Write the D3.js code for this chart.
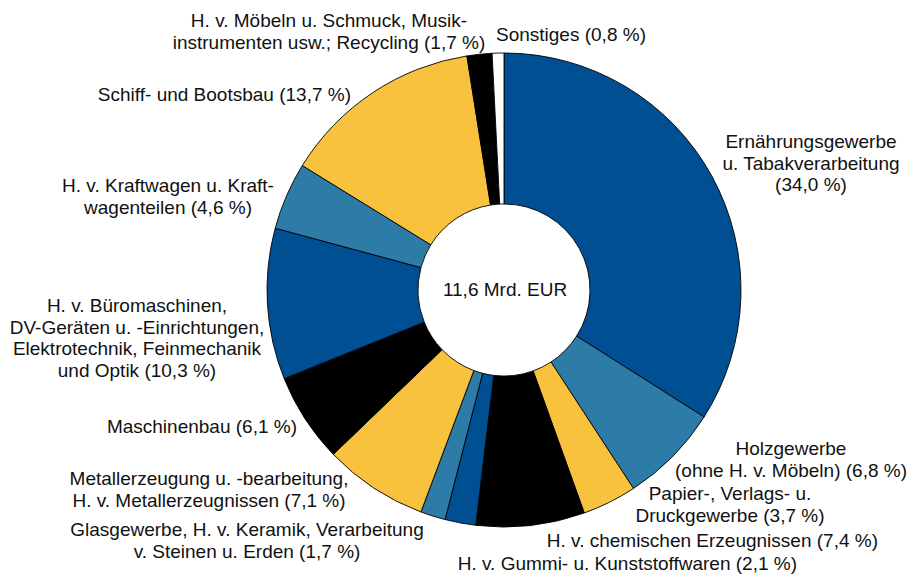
<!DOCTYPE html>
<html>
<head>
<meta charset="utf-8">
<script src="https://cdn.jsdelivr.net/npm/d3@7"></script>
<style>
  body { margin: 0; background: #fff; }
  text { font-family: "Liberation Sans", Arial, sans-serif; fill: #111; }
</style>
</head>
<body>
<svg id="chart" width="909" height="575"></svg>
<script>
// shares in %, clockwise from 12 o'clock
let sectors = ['Ernährungsgewerbe u. Tabakverarbeitung', 'Holzgewerbe', 'Papier-, Verlags- u. Druckgewerbe',
	'H. v. chemischen Erzeugnissen', 'H. v. Gummi- u. Kunststoffwaren', 'Glasgewerbe, Keramik, Steine u. Erden',
	'Metallerzeugung u. -bearbeitung', 'Maschinenbau', 'Büromaschinen, Elektrotechnik, Optik',
	'Kraftwagen', 'Schiff- und Bootsbau', 'Möbel, Schmuck, Recycling', 'Sonstiges'];
let shares = [34.0, 6.8, 3.7, 7.4, 2.1, 1.7, 7.1, 6.1, 10.3, 4.6, 13.7, 1.7, 0.8];
let label_lines = [
	['Ernährungsgewerbe', 'u. Tabakverarbeitung', '(34,0 %)'],
	['Holzgewerbe', '(ohne H. v. Möbeln) (6,8 %)'],
	['Papier-, Verlags- u.', 'Druckgewerbe (3,7 %)'],
	['H. v. chemischen Erzeugnissen (7,4 %)'],
	['H. v. Gummi- u. Kunststoffwaren (2,1 %)'],
	['Glasgewerbe, H. v. Keramik, Verarbeitung', 'v. Steinen u. Erden (1,7 %)'],
	['Metallerzeugung u. -bearbeitung,', 'H. v. Metallerzeugnissen (7,1 %)'],
	['Maschinenbau (6,1 %)'],
	['H. v. Büromaschinen,', 'DV-Geräten u. -Einrichtungen,', 'Elektrotechnik, Feinmechanik', 'und Optik (10,3 %)'],
	['H. v. Kraftwagen u. Kraft-', 'wagenteilen (4,6 %)'],
	['Schiff- und Bootsbau (13,7 %)'],
	['H. v. Möbeln u. Schmuck, Musik-', 'instrumenten usw.; Recycling (1,7 %)'],
	['Sonstiges (0,8 %)']
];
let total_label = '11,6 Mrd. EUR';

let colors = ['#004f92', '#2d7ca8', '#f9c23e', '#000000', '#004f92', '#2d7ca8', '#f9c23e',
	'#000000', '#004f92', '#2d7ca8', '#f9c23e', '#000000', '#ffffff'];

// hand placed label anchors (x, first baseline, anchor)
let label_pos = [
	[811, 148, 'middle'], [791, 455, 'middle'], [730, 500, 'middle'], [878, 547, 'end'],
	[797, 570, 'end'], [247, 536, 'middle'], [209, 485, 'middle'], [297, 433, 'end'],
	[137, 312, 'middle'], [168, 192, 'middle'], [351, 101, 'end'], [329, 27, 'middle'],
	[496, 41, 'start']
];

let cx = 504, cy = 290, outer_r = 237, inner_r = 86,
	font_size = 19, line_h = 21.5;

let svg = d3.select('#chart');
let g = svg.append('g').attr('transform', `translate(${cx}, ${cy})`);

let pie = d3.pie().sort(null).value(d => d);
let arc = d3.arc().innerRadius(inner_r).outerRadius(outer_r);

g.selectAll('.slice')
	.data(pie(shares))
	.enter()
	.append('path')
	.attr('class', 'slice')
	.attr('d', arc)
	.attr('fill', (d, i) => colors[i])
	.attr('stroke', '#000')
	.attr('stroke-width', 0.9)
	.attr('stroke-linejoin', 'round');

g.append('text')
	.attr('x', 1)
	.attr('y', 6)
	.attr('text-anchor', 'middle')
	.style('font-size', font_size + 'px')
	.text(total_label);

let labels = svg.selectAll('.label')
	.data(label_lines)
	.enter()
	.append('text')
	.attr('class', 'label')
	.attr('text-anchor', (d, i) => label_pos[i][2])
	.style('font-size', font_size + 'px');

labels.each(function(lines, i) {
	let t = d3.select(this);
	lines.forEach((ln, j) => {
		t.append('tspan')
			.attr('x', label_pos[i][0])
			.attr('y', label_pos[i][1] + j * line_h)
			.text(ln);
	});
});
</script>
</body>
</html>
